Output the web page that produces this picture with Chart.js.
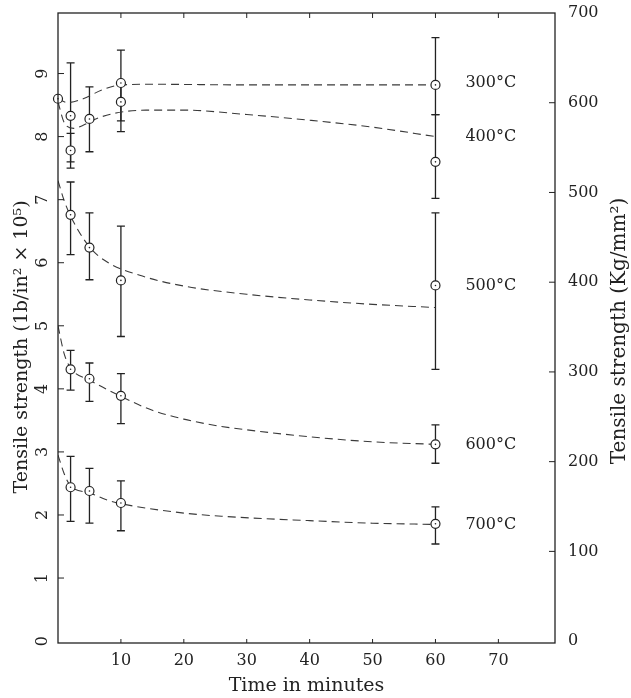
<!DOCTYPE html>
<html>
<head>
<meta charset="utf-8">
<script src="https://cdn.jsdelivr.net/npm/chart.js@4.4.0/dist/chart.umd.min.js"></script>
<style>
  html, body { margin: 0; padding: 0; background: #fff; }
  #wrap { width: 631px; height: 698px; }
</style>
</head>
<body>
<div id="wrap"><canvas id="chart" width="631" height="698"></canvas></div>
<script>
// series labels
const temps = ['300°C', '400°C', '500°C', '600°C', '700°C'];

// measured points (time in minutes, strength in 10^5 lb/in^2)
const t300 = [0, 2, 10, 60];
const v300 = [8.6, 8.33, 8.85, 8.82];
const lo300 = [null, 7.6, 8.25, 8.35];
const hi300 = [null, 9.17, 9.37, 9.57];

const t400 = [2, 5, 10, 60];
const v400 = [7.78, 8.28, 8.55, 7.6];
const lo400 = [7.5, 7.76, 8.08, 7.02];
const hi400 = [8.05, 8.79, 8.85, 8.35];

const t500 = [2, 5, 10, 60];
const v500 = [6.76, 6.24, 5.72, 5.64];
const lo500 = [6.13, 5.73, 4.83, 4.31];
const hi500 = [7.28, 6.79, 6.58, 6.79];

const t600 = [2, 5, 10, 60];
const v600 = [4.31, 4.16, 3.89, 3.12];
const lo600 = [3.98, 3.8, 3.45, 2.82];
const hi600 = [4.61, 4.41, 4.24, 3.43];

const t700 = [2, 5, 10, 60];
const v700 = [2.44, 2.38, 2.19, 1.86];
const lo700 = [1.9, 1.87, 1.75, 1.54];
const hi700 = [2.93, 2.74, 2.54, 2.13];

// fitted (dashed) curves
const fit300T = [0, 1.5, 4, 7, 10, 15, 30, 60];
const fit300V = [8.6, 8.54, 8.6, 8.74, 8.82, 8.83, 8.82, 8.82];
const fit400T = [0, 1, 2.5, 4, 6, 9, 14, 20, 30, 40, 50, 60];
const fit400V = [8.55, 8.22, 8.13, 8.18, 8.28, 8.37, 8.42, 8.42, 8.35, 8.26, 8.15, 8.0];
const fit500T = [0, 1, 2, 5, 8, 13, 20, 30, 40, 50, 60];
const fit500V = [7.3, 6.98, 6.74, 6.25, 6.0, 5.8, 5.63, 5.5, 5.41, 5.34, 5.29];
const fit600T = [0, 1, 2, 5, 10, 15, 20, 25, 30, 40, 50, 60];
const fit600V = [5.0, 4.55, 4.33, 4.14, 3.88, 3.66, 3.52, 3.42, 3.35, 3.24, 3.16, 3.12];
const fit700T = [0, 1, 2, 5, 8, 11, 20, 26, 40, 50, 60];
const fit700V = [2.95, 2.65, 2.46, 2.35, 2.23, 2.16, 2.03, 1.98, 1.91, 1.87, 1.85];

// where each temperature label sits (strength value) and its time position
const labelValues = [8.85, 8.0, 5.63, 3.11, 1.85];
const labelTime = 68.8;

// tick labels
const xTicks = [10, 20, 30, 40, 50, 60, 70];
const yTicks = [0, 1, 2, 3, 4, 5, 6, 7, 8, 9];
const y2Ticks = [0, 100, 200, 300, 400, 500, 600, 700];

const INK = '#222';
const FONT = "'DejaVu Serif', serif";

const pts = (ts, vs) => ts.map((t, i) => ({ x: t, y: vs[i] }));

const measured = [
    { t: t300, v: v300, lo: lo300, hi: hi300 },
    { t: t400, v: v400, lo: lo400, hi: hi400 },
    { t: t500, v: v500, lo: lo500, hi: hi500 },
    { t: t600, v: v600, lo: lo600, hi: hi600 },
    { t: t700, v: v700, lo: lo700, hi: hi700 }
];
const fits = [
    [fit300T, fit300V], [fit400T, fit400V], [fit500T, fit500V],
    [fit600T, fit600V], [fit700T, fit700V]
];

const datasets = [];
measured.forEach((m, i) => {
    datasets.push({
        label: temps[i],
        data: pts(m.t, m.v),
        showLine: false,
        pointRadius: 4.5,
        pointBorderWidth: 1.2,
        pointBorderColor: INK,
        pointBackgroundColor: '#fff',
        clip: false,
        isPoints: true
    });
});
fits.forEach((f, i) => {
    datasets.push({
        label: temps[i] + ' fit',
        data: pts(f[0], f[1]),
        showLine: true,
        borderColor: '#3a3a3a',
        borderWidth: 1.1,
        borderDash: [8, 5],
        pointRadius: 0,
        cubicInterpolationMode: 'monotone',
        fill: false
    });
});

// error bars drawn under the circles
const errorBars = {
    id: 'errorBars',
    beforeDatasetsDraw(chart) {
        const { ctx, scales: { x, y } } = chart;
        ctx.save();
        ctx.strokeStyle = INK;
        ctx.lineWidth = 1.3;
        measured.forEach(m => {
            m.t.forEach((t, i) => {
                if (m.lo[i] == null) return;
                const px = x.getPixelForValue(t);
                const pLo = y.getPixelForValue(m.lo[i]);
                const pHi = y.getPixelForValue(m.hi[i]);
                ctx.beginPath();
                ctx.moveTo(px, pLo); ctx.lineTo(px, pHi);
                ctx.moveTo(px - 4, pLo); ctx.lineTo(px + 4, pLo);
                ctx.moveTo(px - 4, pHi); ctx.lineTo(px + 4, pHi);
                ctx.stroke();
            });
        });
        ctx.restore();
    },
    afterDatasetsDraw(chart) {
        const { ctx } = chart;
        ctx.save();
        ctx.fillStyle = INK;
        chart.data.datasets.forEach((ds, i) => {
            if (!ds.isPoints) return;
            chart.getDatasetMeta(i).data.forEach(el => {
                ctx.beginPath();
                ctx.arc(el.x, el.y, 0.8, 0, Math.PI * 2);
                ctx.fill();
            });
        });
        ctx.restore();
    }
};

// frame, inward ticks, curve labels, y titles
const frame = {
    id: 'frame',
    afterDraw(chart) {
        const { ctx, chartArea: a, scales: { x, y, y2 } } = chart;
        ctx.save();
        ctx.strokeStyle = INK;
        ctx.lineWidth = 1.3;
        ctx.strokeRect(a.left, a.top, a.right - a.left, a.bottom - a.top);

        ctx.lineWidth = 1;
        ctx.beginPath();
        xTicks.forEach(v => {
            const px = x.getPixelForValue(v);
            ctx.moveTo(px, a.bottom); ctx.lineTo(px, a.bottom - 4);
            ctx.moveTo(px, a.top); ctx.lineTo(px, a.top + 5);
        });
        yTicks.forEach(v => {
            if (v === 0) return;
            const py = y.getPixelForValue(v);
            ctx.moveTo(a.left, py); ctx.lineTo(a.left + 6, py);
        });
        y2Ticks.forEach(v => {
            if (v === 0 || v === 700) return;
            const py = y2.getPixelForValue(v);
            ctx.moveTo(a.right, py); ctx.lineTo(a.right - 6, py);
        });
        ctx.stroke();

        ctx.fillStyle = INK;
        ctx.font = '16px ' + FONT;
        ctx.textAlign = 'center';
        ctx.textBaseline = 'middle';
        temps.forEach((t, i) => {
            ctx.fillText(t, x.getPixelForValue(labelTime), y.getPixelForValue(labelValues[i]));
        });

        ctx.font = '19px ' + FONT;
        ctx.save();
        ctx.translate(22, 347);
        ctx.rotate(-Math.PI / 2);
        ctx.fillText('Tensile strength (1b/in² × 10⁵)', 0, 0);
        ctx.restore();

        ctx.font = '20px ' + FONT;
        ctx.save();
        ctx.translate(620, 331);
        ctx.rotate(-Math.PI / 2);
        ctx.fillText('Tensile strength (Kg/mm²)', 0, 0);
        ctx.restore();
        ctx.restore();
    }
};

const noPad = s => { s.paddingTop = 0; s.paddingBottom = 0; s.paddingLeft = 0; s.paddingRight = 0; };

const ctx = document.getElementById('chart').getContext('2d');
new Chart(ctx, {
    type: 'scatter',
    data: { datasets },
    options: {
        responsive: false,
        animation: false,
        layout: { padding: { top: 13, left: 0, right: 0, bottom: 0 } },
        plugins: { legend: { display: false }, tooltip: { enabled: false } },
        scales: {
            x: {
                type: 'linear', position: 'bottom', min: 0, max: 79,
                grid: { display: false, drawTicks: false },
                border: { display: false },
                afterBuildTicks: s => { s.ticks = xTicks.map(v => ({ value: v })); },
                afterFit: s => { s.height = 55; noPad(s); },
                ticks: { color: INK, font: { family: FONT, size: 16 }, padding: 8, maxRotation: 0 },
                title: {
                    display: true, text: 'Time in minutes', color: INK,
                    font: { family: FONT, size: 19 }, padding: { top: 0, bottom: 1 }
                }
            },
            y: {
                type: 'linear', position: 'left', min: -0.03, max: 9.96,
                grid: { display: false, drawTicks: false },
                border: { display: false },
                afterBuildTicks: s => { s.ticks = yTicks.map(v => ({ value: v })); },
                afterFit: s => { s.width = 58; noPad(s); },
                ticks: {
                    color: INK, font: { family: FONT, size: 16 }, padding: 10,
                    minRotation: 90, maxRotation: 90, crossAlign: 'center'
                }
            },
            y2: {
                type: 'linear', position: 'right', min: -2.1, max: 700,
                grid: { display: false, drawTicks: false },
                border: { display: false },
                afterBuildTicks: s => { s.ticks = y2Ticks.map(v => ({ value: v })); },
                afterFit: s => { s.width = 76; noPad(s); },
                ticks: { color: INK, font: { family: FONT, size: 16 }, padding: 13 }
            }
        }
    },
    plugins: [errorBars, frame]
});
</script>
</body>
</html>
